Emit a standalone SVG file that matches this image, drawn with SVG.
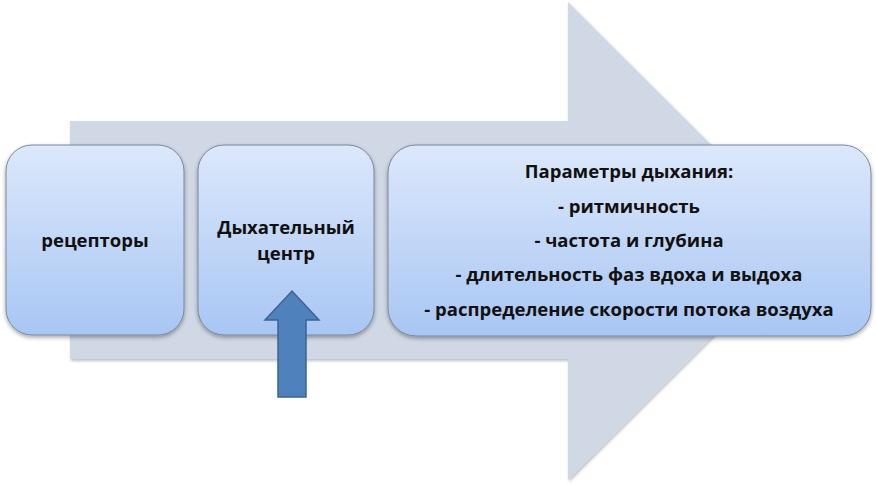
<svg xmlns="http://www.w3.org/2000/svg" width="876" height="485" viewBox="0 0 876 485">
<defs>
<linearGradient id="boxg" x1="0" y1="0" x2="0" y2="1">
<stop offset="0" stop-color="#dce8fb"/>
<stop offset="1" stop-color="#a8c6f4"/>
</linearGradient>
<filter id="sh" x="-10%" y="-10%" width="120%" height="130%">
<feDropShadow dx="0" dy="2" stdDeviation="2" flood-color="#000" flood-opacity="0.35"/>
</filter>
<filter id="sh2" x="-10%" y="-10%" width="120%" height="120%">
<feDropShadow dx="1" dy="2" stdDeviation="1.5" flood-color="#000" flood-opacity="0.25"/>
</filter>
</defs>
<style>
.box{fill:url(#boxg);stroke:#7c8799;stroke-width:1;filter:url(#sh)}
.t{font-family:"Open Sans","Noto Sans","DejaVu Sans",sans-serif;font-weight:bold;font-size:18.5px;fill:#111;text-anchor:middle}
</style>
<rect width="876" height="485" fill="#fff"/>
<g id="bigArrow">
<path d="M70,121 H568 V2 L808,241 L568,480 V359 H70 Z" fill="#d0d8e6" filter="url(#sh2)"/>
</g>
<g id="receptors">
<rect class="box" x="6" y="145" width="178" height="190" rx="26"/>
<text class="t" x="95" y="247">рецепторы</text>
</g>
<g id="center">
<rect class="box" x="198" y="145" width="176" height="190" rx="26"/>
<text class="t" x="286" y="234">Дыхательный</text>
<text class="t" x="286" y="260">центр</text>
</g>
<g id="params">
<rect class="box" x="388" y="145" width="483" height="191" rx="28"/>
<text class="t" x="629" y="178">Параметры дыхания:</text>
<text class="t" x="629" y="213">- ритмичность</text>
<text class="t" x="629" y="247">- частота и глубина</text>
<text class="t" x="629" y="281">- длительность фаз вдоха и выдоха</text>
<text class="t" x="629" y="316">- распределение скорости потока воздуха</text>
</g>
<g id="connectors">
<path d="M278,397 V320 H265 L292,291 L319,320 H306 V397 Z" fill="#4f81bd" stroke="#3a6593" stroke-width="1.5"/>
</g>
</svg>
